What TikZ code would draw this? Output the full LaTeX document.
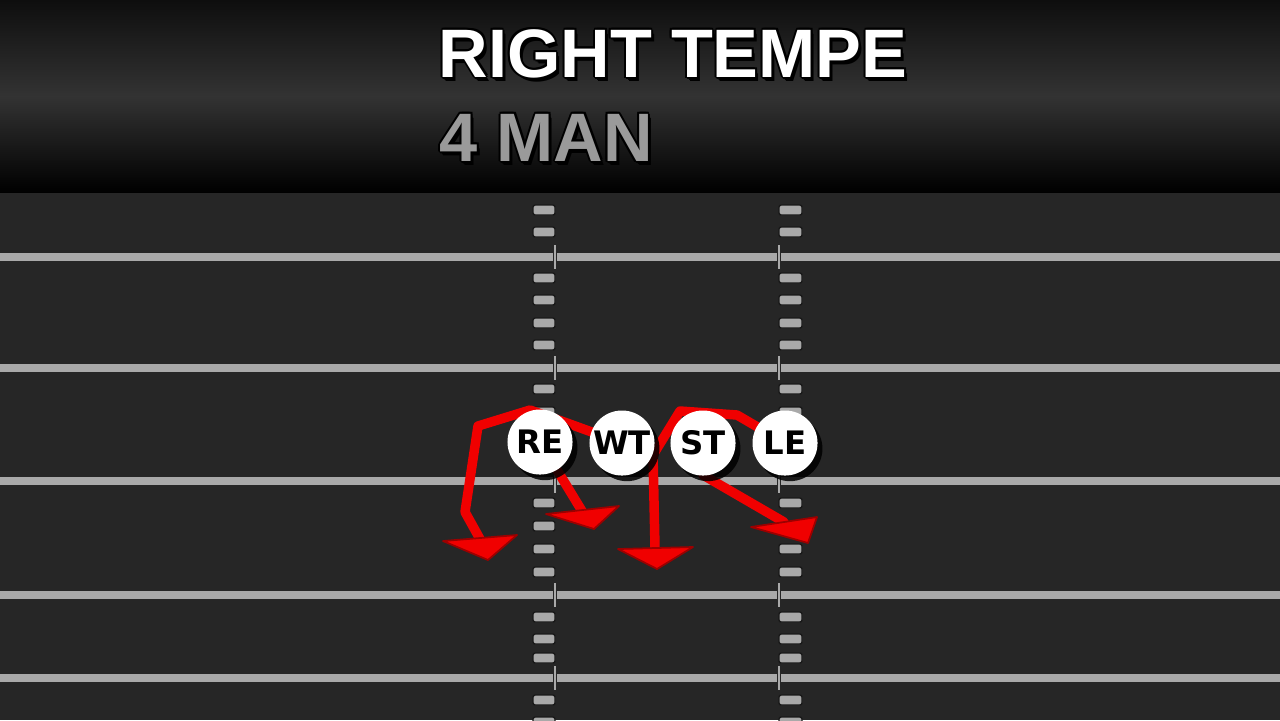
\documentclass[tikz,border=0pt]{standalone}
\usepackage{fontspec}
\setmainfont{Liberation Sans}
\newfontfamily\playerfont{DejaVu Sans}
\usetikzlibrary{shadows}
\definecolor{field}{HTML}{262626}
\definecolor{chalk}{HTML}{A9A9A9}
\definecolor{route}{HTML}{F00000}
\definecolor{subgray}{HTML}{9A9A9A}
\definecolor{bandtop}{HTML}{0E0E0E}
\definecolor{bandmid}{HTML}{333333}
\tikzset{
	player/.style={circle, fill=white, minimum size=0.65cm, inner sep=0pt,
		font=\playerfont\bfseries\fontsize{9.2}{9.2}\selectfont,
		drop shadow={shadow xshift=1.4pt, shadow yshift=-1.6pt, fill=black, opacity=0.85}},
	hash/.style={fill=chalk, draw=black!90, line width=0.4pt, rounded corners=0.6pt},
	yard/.style={fill=chalk, draw=black!85, line width=0.4pt},
	run/.style={route, line width=2.7pt, line join=round, line cap=round},
	head/.style={fill=route, draw=route!65!black, line width=0.5pt, line join=round},
	title/.style={anchor=base west, inner sep=0pt, font=\bfseries\fontsize{19.5}{20}\selectfont}
}
\newcommand{\playhead}[4]{\draw[head] ([shift={(#2)}]#1) -- ([shift={(#3)}]#1) -- ([shift={(#4)}]#1) -- cycle;}
\begin{document}
\begin{tikzpicture}[x=0.01cm, y=-0.01cm]
	\useasboundingbox (0,0) rectangle (1280,720);
	\fill[field] (0,0) rectangle (1280,720);
	% header band
	\shade[top color=bandtop, bottom color=bandmid] (0,0) rectangle (1280,96.5);
	\shade[top color=bandmid, bottom color=black] (0,96) rectangle (1280,192);
	\foreach \dx/\dy in {-2/0, 2/0, 0/-2, 0/2, -1.5/-1.5, 1.5/-1.5, -1.5/1.5, 2/3, 3/4}
	{
		\node[title, black] at (438+\dx, 77+\dy) {RIGHT TEMPE};
		\node[title, black] at (439+\dx, 161+\dy) {4 MAN};
	}
	\node[title, white] (title) at (438,77) {RIGHT TEMPE};
	\node[title, subgray] (subtitle) at (439,161) {4 MAN};

	% yard lines and hash marks
	\foreach \y in {257, 368, 481, 595, 678}
	{
		\draw[yard] (-5,\y-4.5) rectangle (1285,\y+4.5);
		\draw[yard] (553.5,\y-13) rectangle (556.5,\y+13);
		\draw[yard] (777.5,\y-13) rectangle (780.5,\y+13);
	}
	\foreach \y in {210, 232, 278, 300, 323, 345, 389, 412, 435, 458, 503, 526, 549, 572, 617, 639, 658, 700, 722}
	{
		\draw[hash] (533,\y-5) rectangle (555,\y+5);
		\draw[hash] (779,\y-5) rectangle (802,\y+5);
	}

	% player spots
	\coordinate (re) at (540,442);
	\coordinate (wt) at (622,443);
	\coordinate (st) at (703,443);
	\coordinate (le) at (785,443);

	% routes
	\coordinate (wt1) at (567,423);
	\coordinate (wt2) at (530,410);
	\coordinate (wt3) at (478,426);
	\coordinate (wt4) at (465,512);
	\coordinate (wtEnd) at (480,539);
	\draw[run] (wt) -- (wt1) -- (wt2) -- (wt3) -- (wt4) -- (wtEnd);
	\playhead{wtEnd}{-37,2}{37,-4}{8,21}

	\coordinate (reEnd) at (582,511);
	\draw[run] (re) -- (reEnd);
	\playhead{reEnd}{-36,3}{37,-5}{12,18}

	\coordinate (st1) at (703,475);
	\coordinate (stEnd) at (784,522);
	\draw[run] (st) -- (st1) -- (stEnd);
	\playhead{stEnd}{-33,5}{33,-5}{24,21}

	\coordinate (le1) at (737,415);
	\coordinate (le2) at (680,411);
	\coordinate (le3) at (653,455);
	\coordinate (leEnd) at (655,548);
	\draw[run] (le) -- (le1) -- (le2) -- (le3) -- (leEnd);
	\playhead{leEnd}{-37,1}{38,-1}{2,21}

	% players
	\node[player] (RE) at (re) {RE};
	\node[player] (WT) at (wt) {WT};
	\node[player] (ST) at (st) {ST};
	\node[player] (LE) at (le) {LE};
\end{tikzpicture}
\end{document}
